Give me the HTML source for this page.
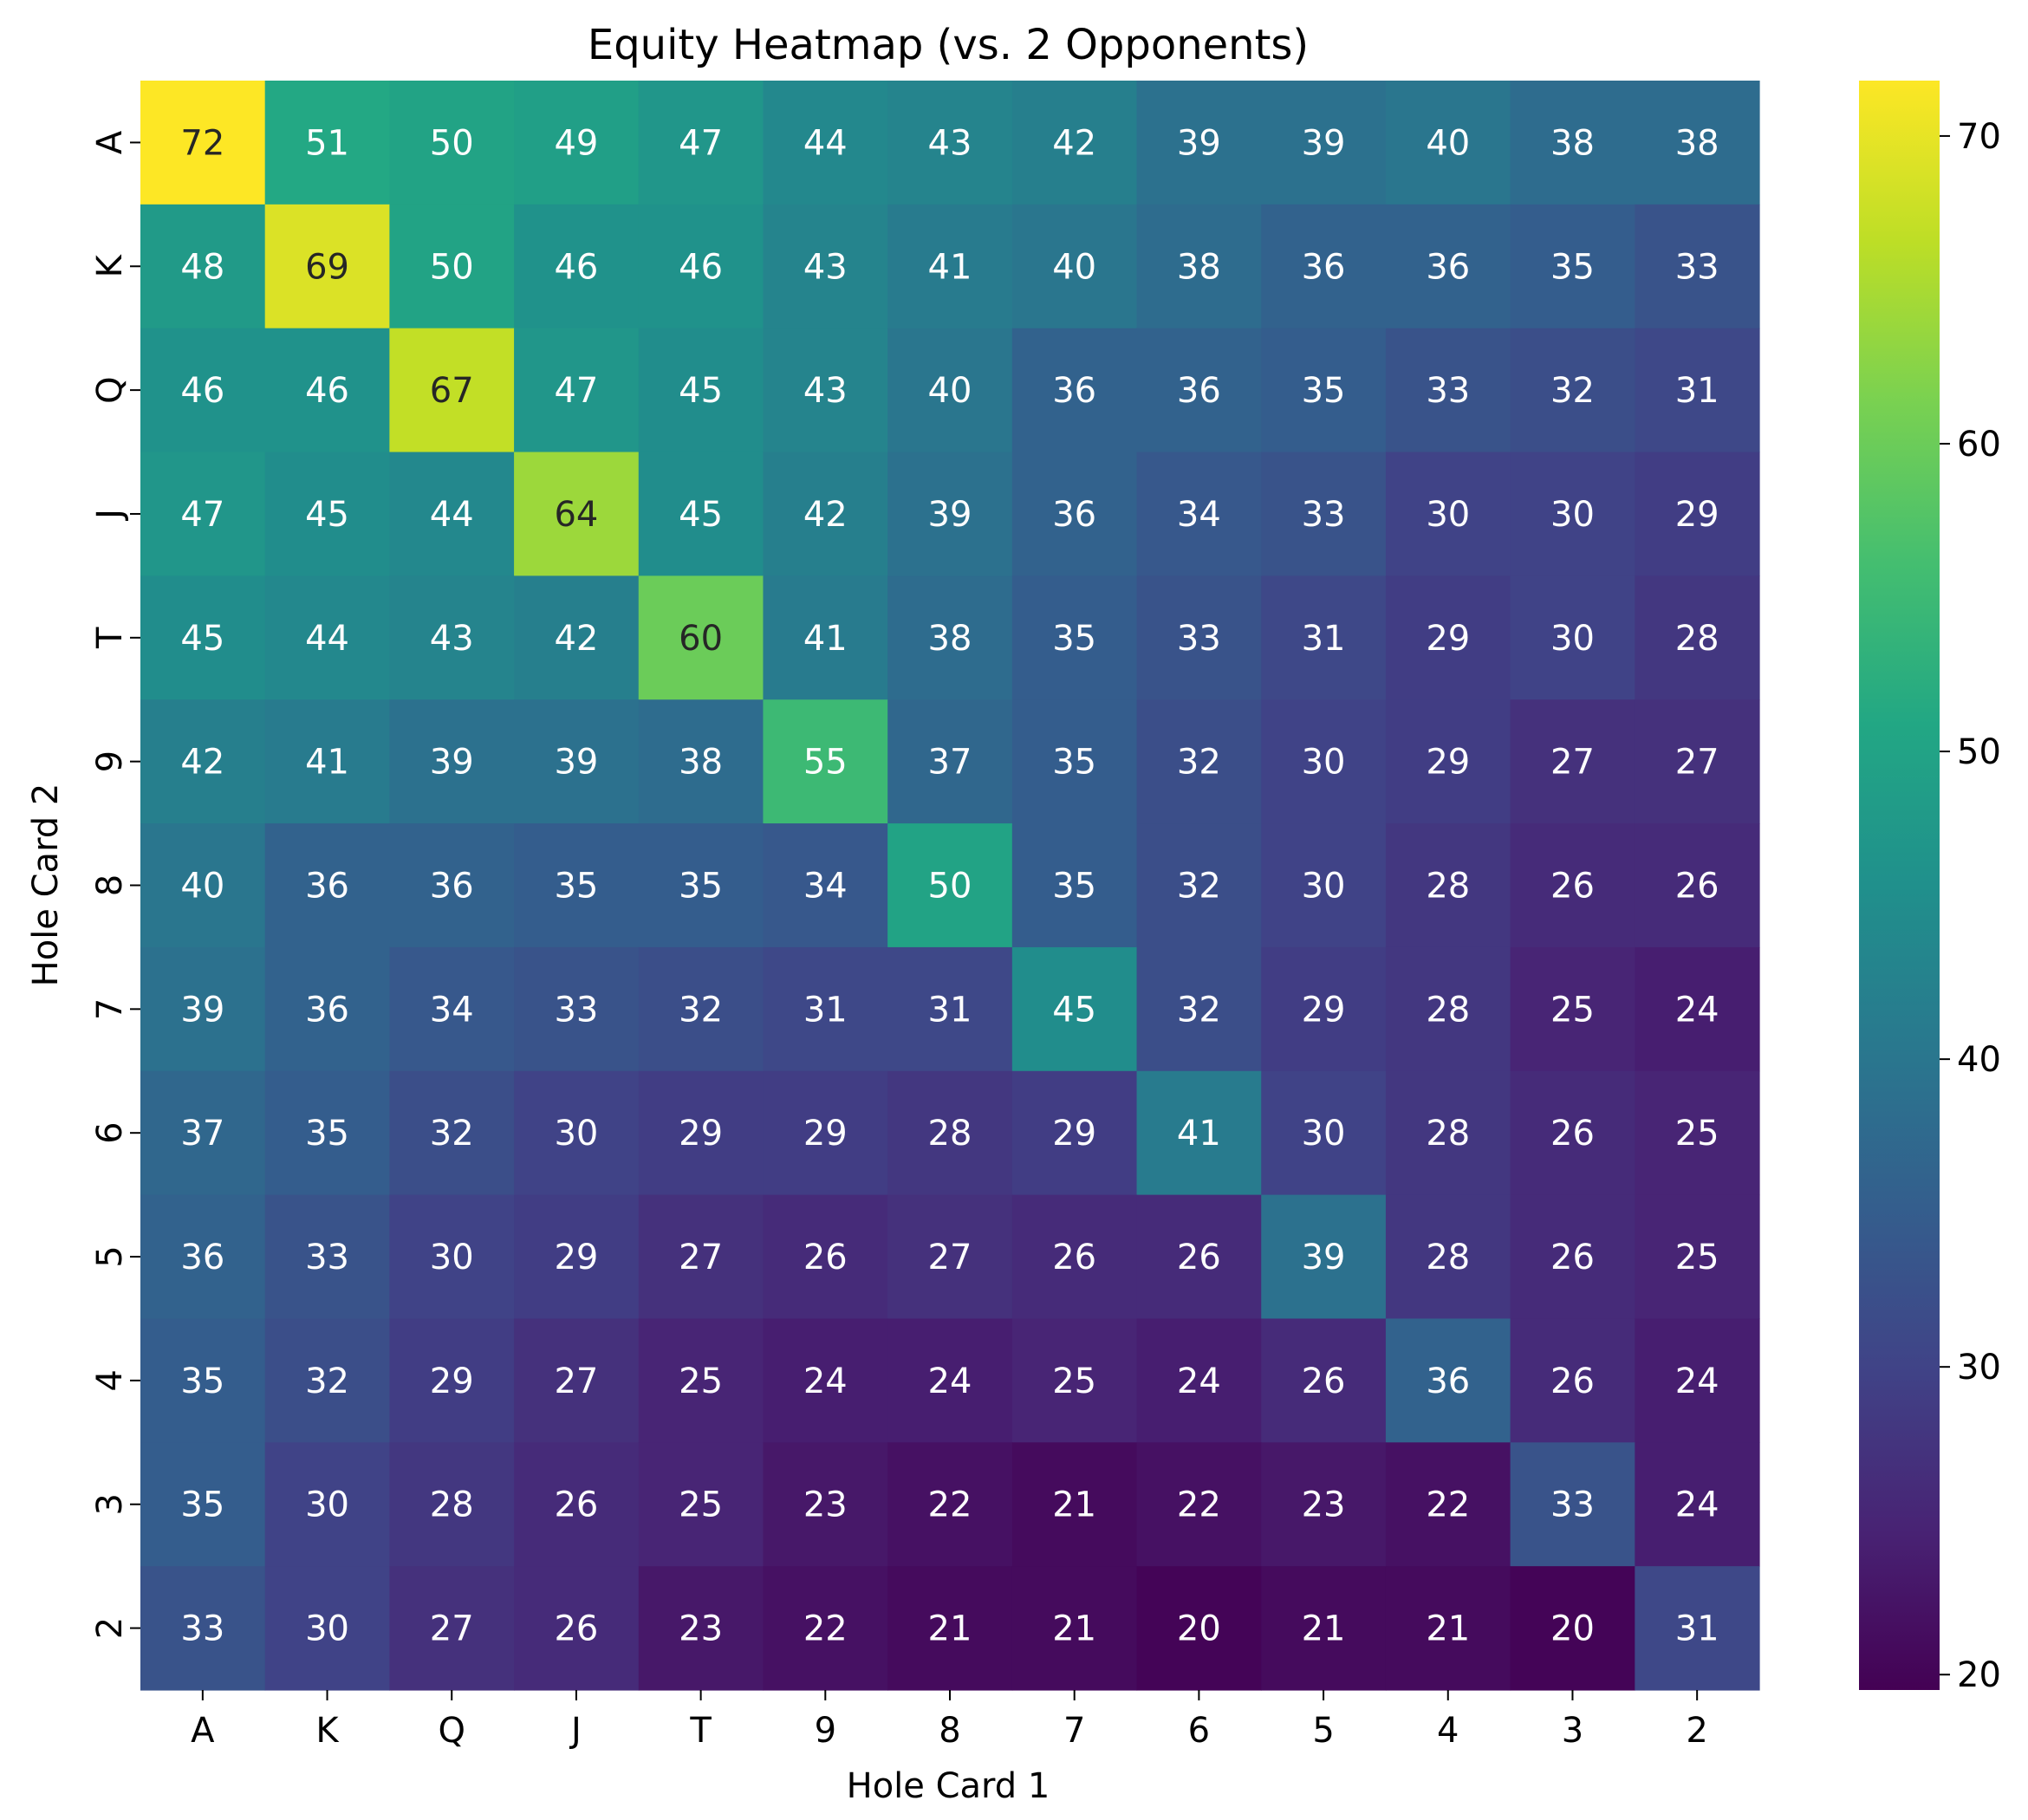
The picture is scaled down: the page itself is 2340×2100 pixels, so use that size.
<!DOCTYPE html>
<html><head><meta charset="utf-8">
<style>
html,body{margin:0;padding:0;background:#fff;}
svg{display:block;font-family:"DejaVu Sans","Liberation Sans",sans-serif;}
</style></head>
<body>
<svg id="chart" width="2340" height="2100" viewBox="0 0 2340 2100" xmlns="http://www.w3.org/2000/svg">
<rect width="2340" height="2100" fill="#fff"/>
<text x="1094" y="68" font-size="48" text-anchor="middle" fill="#000">Equity Heatmap (vs. 2 Opponents)</text>
<text x="1094" y="2074" font-size="40" text-anchor="middle" fill="#000">Hole Card 1</text>
<text x="0" y="0" font-size="40" text-anchor="middle" fill="#000" transform="translate(66,1021) rotate(-90)">Hole Card 2</text>
<g id="cells"></g>
<g id="cbar"></g>
</svg>
<script>
const xCategories = ["A","K","Q","J","T","9","8","7","6","5","4","3","2"];
const yCategories = ["A","K","Q","J","T","9","8","7","6","5","4","3","2"];
const rowA = [72,51,50,49,47,44,43,42,39,39,40,38,38];
const rowK = [48,69,50,46,46,43,41,40,38,36,36,35,33];
const rowQ = [46,46,67,47,45,43,40,36,36,35,33,32,31];
const rowJ = [47,45,44,64,45,42,39,36,34,33,30,30,29];
const rowT = [45,44,43,42,60,41,38,35,33,31,29,30,28];
const row9 = [42,41,39,39,38,55,37,35,32,30,29,27,27];
const row8 = [40,36,36,35,35,34,50,35,32,30,28,26,26];
const row7 = [39,36,34,33,32,31,31,45,32,29,28,25,24];
const row6 = [37,35,32,30,29,29,28,29,41,30,28,26,25];
const row5 = [36,33,30,29,27,26,27,26,26,39,28,26,25];
const row4 = [35,32,29,27,25,24,24,25,24,26,36,26,24];
const row3 = [35,30,28,26,25,23,22,21,22,23,22,33,24];
const row2 = [33,30,27,26,23,22,21,21,20,21,21,20,31];
const values = [rowA,rowK,rowQ,rowJ,rowT,row9,row8,row7,row6,row5,row4,row3,row2];
const cbarTicks = [20,30,40,50,60,70];

const vmin = 19.5, vmax = 71.8;
const L = 162, R = 2030, T = 93, B = 1950;
const NS = "http://www.w3.org/2000/svg";
const cw = (R-L)/xCategories.length, ch = (B-T)/yCategories.length;
const xPos = i => L + i*cw;
const yPos = j => T + j*ch;

const vir = [[68,1,84],[72,35,116],[64,67,135],[52,94,141],[41,120,142],[32,144,140],[34,167,132],[68,190,112],[121,209,81],[189,222,38],[253,231,37]];
function viridis(t){
  t = Math.max(0,Math.min(1,t));
  const p = t*(vir.length-1), i = Math.min(Math.floor(p), vir.length-2), f = p-i;
  return vir[i].map((v,k)=>Math.round(v+(vir[i+1][k]-v)*f));
}
const norm = v => (v-vmin)/(vmax-vmin);
function mk(tag, attrs, parent){
  const e = document.createElementNS(NS, tag);
  for (const k in attrs) e.setAttribute(k, attrs[k]);
  parent.appendChild(e); return e;
}
const cells = document.getElementById('cells');
values.forEach((row,j)=>{
  row.forEach((v,i)=>{
    const c = viridis(norm(v));
    const r = mk('rect',{x:xPos(i),y:yPos(j),width:cw+0.6,height:ch+0.6,fill:`rgb(${c[0]},${c[1]},${c[2]})`},cells);
    
    
  });
});
values.forEach((row,j)=>{
  row.forEach((v,i)=>{
    const c = viridis(norm(v));
    const lum = 0.299*c[0]+0.587*c[1]+0.114*c[2];
    const t = mk('text',{x:xPos(i)+cw/2,y:yPos(j)+ch/2+14,'font-size':40,'text-anchor':'middle',fill: lum>150?'#262626':'#fff'},cells);
    t.textContent = v;
    
    
  });
});
xCategories.forEach((c,i)=>{
  const x = xPos(i)+cw/2;
  mk('line',{x1:x,x2:x,y1:B,y2:B+12,stroke:'#000','stroke-width':2},cells);
  const t = mk('text',{x:x,y:B+60,'font-size':40,'text-anchor':'middle',fill:'#000'},cells);
  t.textContent = c;
  
  
});
yCategories.forEach((c,j)=>{
  const y = yPos(j)+ch/2;
  mk('line',{x1:L-12,x2:L,y1:y,y2:y,stroke:'#000','stroke-width':2},cells);
  const t = mk('text',{x:0,y:0,'font-size':40,'text-anchor':'middle',fill:'#000',transform:`translate(${L-22},${y}) rotate(-90)`},cells);
  t.textContent = c;
  
  
});
const cb = document.getElementById('cbar');
const cbL = 2145, cbW = 93;
const defs = mk('defs',{},cb);
const g = mk('linearGradient',{id:'vg',x1:0,y1:1,x2:0,y2:0},defs);
vir.forEach((c,k)=>mk('stop',{offset:k/(vir.length-1),'stop-color':`rgb(${c[0]},${c[1]},${c[2]})`},g));
const cr = mk('rect',{x:cbL,y:T,width:cbW,height:B-T,fill:'url(#vg)'},cb);


const cbY = v => B - norm(v)*(B-T);
cbarTicks.forEach(v=>{
  const y = cbY(v);
  mk('line',{x1:cbL+cbW,x2:cbL+cbW+12,y1:y,y2:y,stroke:'#000','stroke-width':2},cb);
  const t = mk('text',{x:cbL+cbW+20,y:y+14,'font-size':40,fill:'#000'},cb);
  t.textContent = v;
  
  
});
</script>
</body></html>
